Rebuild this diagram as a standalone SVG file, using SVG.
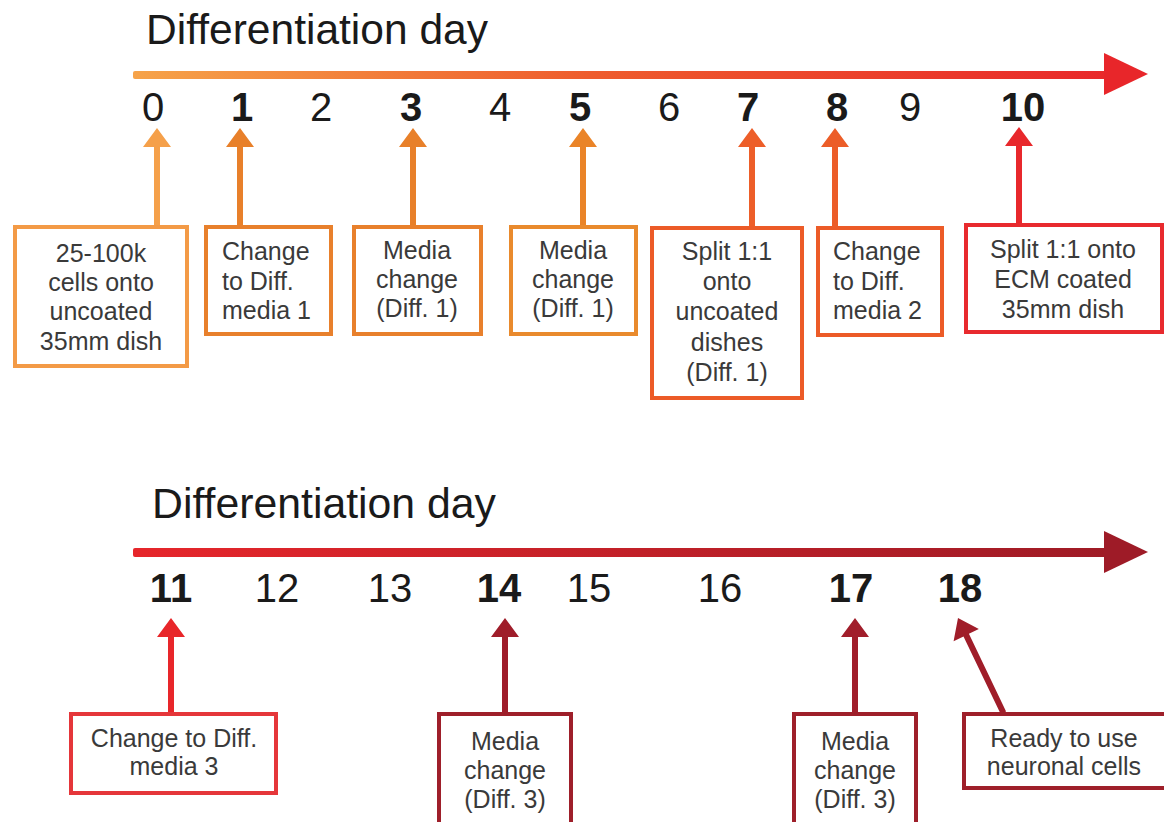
<svg xmlns="http://www.w3.org/2000/svg" width="1164" height="822" viewBox="0 0 1164 822">
<defs>
<linearGradient id="g1" gradientUnits="userSpaceOnUse" x1="133" y1="0" x2="1147" y2="0">
<stop offset="0" stop-color="#f6a349"/>
<stop offset="0.45" stop-color="#ee5c2d"/>
<stop offset="1" stop-color="#e8252a"/>
</linearGradient>
<linearGradient id="g2" gradientUnits="userSpaceOnUse" x1="133" y1="0" x2="1147" y2="0">
<stop offset="0" stop-color="#e6262b"/>
<stop offset="1" stop-color="#9c1a25"/>
</linearGradient>
<style>
.title{font-family:"Liberation Sans",Arial,sans-serif;font-size:42px;fill:#1a1a1a}
.num{font-family:"Liberation Sans",Arial,sans-serif;font-size:40px;fill:#1a1a1a;text-anchor:middle}
.b{font-weight:bold}
.box{fill:#ffffff;stroke-width:4}
.t{font-family:"Liberation Sans",Arial,sans-serif;font-size:25px;fill:#3a3a3a;text-anchor:middle}
.l{text-anchor:start}
</style>
</defs>
<rect x="0" y="0" width="1164" height="822" fill="#ffffff"/>

<g id="timeline1">
<text class="title" x="146" y="44" textLength="342" lengthAdjust="spacingAndGlyphs">Differentiation day</text>
<rect x="133" y="71" width="975" height="8" rx="2" fill="url(#g1)"/>
<polygon points="1104,53 1148,74 1104,95" fill="#e8262a"/>
<text class="num" x="153" y="121">0</text>
<text class="num b" x="242" y="121">1</text>
<text class="num" x="321" y="121">2</text>
<text class="num b" x="411" y="121">3</text>
<text class="num" x="500" y="121">4</text>
<text class="num b" x="580" y="121">5</text>
<text class="num" x="669" y="121">6</text>
<text class="num b" x="748" y="121">7</text>
<text class="num b" x="837" y="121">8</text>
<text class="num" x="910" y="121">9</text>
<text class="num b" x="1023" y="121">10</text>
</g>

<g id="timeline2">
<text class="title" x="152" y="518" textLength="344" lengthAdjust="spacingAndGlyphs">Differentiation day</text>
<rect x="133" y="548" width="975" height="9" rx="2" fill="url(#g2)"/>
<polygon points="1104,531 1148,552 1104,573" fill="#9e1b27"/>
<text class="num b" x="171" y="602">11</text>
<text class="num" x="277" y="602">12</text>
<text class="num" x="390" y="602">13</text>
<text class="num b" x="499" y="602">14</text>
<text class="num" x="589" y="602">15</text>
<text class="num" x="720" y="602">16</text>
<text class="num b" x="851" y="602">17</text>
<text class="num b" x="960" y="602">18</text>
</g>

<g id="connectors">
<path d="M157,128 L171,147 L160,147 L160,226 L154,226 L154,147 L143,147 Z" fill="#f5a04a"/>
<path d="M240,128 L254,147 L243,147 L243,226 L237,226 L237,147 L226,147 Z" fill="#e8802a"/>
<path d="M413,128 L427,147 L416,147 L416,226 L410,226 L410,147 L399,147 Z" fill="#e8802a"/>
<path d="M583,128 L597,147 L586,147 L586,226 L580,226 L580,147 L569,147 Z" fill="#ea8428"/>
<path d="M752,128 L766,147 L755,147 L755,227 L749,227 L749,147 L738,147 Z" fill="#ed5e29"/>
<path d="M835,128 L849,147 L838,147 L838,227 L832,227 L832,147 L821,147 Z" fill="#ec5d28"/>
<path d="M1019,127 L1033,146 L1022,146 L1022,224 L1016,224 L1016,146 L1005,146 Z" fill="#e8282c"/>
<path d="M171,618 L185,637 L174,637 L174,713 L168,713 L168,637 L157,637 Z" fill="#e8262a"/>
<path d="M505,618 L519,637 L508,637 L508,713 L502,713 L502,637 L491,637 Z" fill="#9f1d2a"/>
<path d="M855,618 L869,637 L858,637 L858,713 L852,713 L852,637 L841,637 Z" fill="#a11e2b"/>
<path d="M0,0 L14,19 L3,19 L3,105 L-3,105 L-3,19 L-14,19 Z" fill="#a01d29" transform="translate(958,618) rotate(-25.6)"/>
</g>

<g id="n0">
<rect class="box" x="15" y="227" width="172" height="139" stroke="#f39a46"/>
<text class="t" x="101" y="262">25-100k</text>
<text class="t" x="101" y="291">cells onto</text>
<text class="t" x="101" y="320">uncoated</text>
<text class="t" x="101" y="350">35mm dish</text>
</g>
<g id="n1">
<rect class="box" x="206" y="227" width="125" height="107" stroke="#e8802c"/>
<text class="t l" x="222" y="260">Change</text>
<text class="t l" x="222" y="290">to Diff.</text>
<text class="t l" x="222" y="319">media 1</text>
</g>
<g id="n3">
<rect class="box" x="354" y="227" width="127" height="107" stroke="#e8802c"/>
<text class="t" x="417" y="259">Media</text>
<text class="t" x="417" y="288">change</text>
<text class="t" x="417" y="317">(Diff. 1)</text>
</g>
<g id="n5">
<rect class="box" x="511" y="227" width="125" height="107" stroke="#e98a2d"/>
<text class="t" x="573" y="259">Media</text>
<text class="t" x="573" y="288">change</text>
<text class="t" x="573" y="317">(Diff. 1)</text>
</g>
<g id="n7">
<rect class="box" x="652" y="228" width="150" height="170" stroke="#ec5b27"/>
<text class="t" x="727" y="260">Split 1:1</text>
<text class="t" x="727" y="290">onto</text>
<text class="t" x="727" y="320">uncoated</text>
<text class="t" x="727" y="351">dishes</text>
<text class="t" x="727" y="381">(Diff. 1)</text>
</g>
<g id="n8">
<rect class="box" x="818" y="228" width="124" height="107" stroke="#ec5b27"/>
<text class="t l" x="833" y="260">Change</text>
<text class="t l" x="833" y="290">to Diff.</text>
<text class="t l" x="833" y="319">media 2</text>
</g>
<g id="n10">
<rect class="box" x="966" y="225" width="196" height="107" stroke="#e82a2e"/>
<text class="t" x="1063" y="258">Split 1:1 onto</text>
<text class="t" x="1063" y="288">ECM coated</text>
<text class="t" x="1063" y="318">35mm dish</text>
</g>
<g id="n11">
<rect class="box" x="71" y="714" width="205" height="79" stroke="#e5363a"/>
<text class="t" x="174" y="747">Change to Diff.</text>
<text class="t" x="174" y="775">media 3</text>
</g>
<g id="n14">
<rect class="box" x="439" y="714" width="132" height="130" stroke="#9e1f2a"/>
<text class="t" x="505" y="750">Media</text>
<text class="t" x="505" y="779">change</text>
<text class="t" x="505" y="808">(Diff. 3)</text>
</g>
<g id="n17">
<rect class="box" x="794" y="714" width="122" height="130" stroke="#9e1f2a"/>
<text class="t" x="855" y="750">Media</text>
<text class="t" x="855" y="779">change</text>
<text class="t" x="855" y="808">(Diff. 3)</text>
</g>
<g id="n18">
<rect class="box" x="964" y="714" width="210" height="74" stroke="#9e1f2a"/>
<text class="t" x="1064" y="747">Ready to use</text>
<text class="t" x="1064" y="775">neuronal cells</text>
</g>
</svg>
